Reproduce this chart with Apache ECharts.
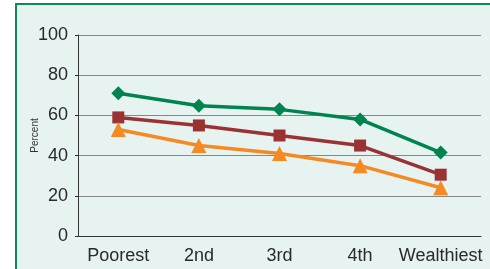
<!DOCTYPE html>
<html>
<head>
<meta charset="utf-8">
<script src="https://cdn.jsdelivr.net/npm/echarts@6/dist/echarts.min.js"></script>
<style>
html,body{margin:0;padding:0;background:#fff;}
#panel{position:absolute;left:15px;top:3px;width:480px;height:270px;background:#E7F3F1;border-left:2px solid #0E8A57;border-top:2px solid #0E8A57;box-sizing:border-box;}
#chart{position:absolute;left:0;top:0;width:490px;height:269px;}
</style>
</head>
<body>
<div id="panel"></div>
<div id="chart"></div>
<script>
const categories = ['Poorest', '2nd', '3rd', '4th', 'Wealthiest'];
const greenSeries = [71, 64.8, 63, 58, 41.5];
const redSeries = [59, 55, 50, 45, 30.5];
const orangeSeries = [53, 45, 41, 35, 24];
const yTicks = [0, 20, 40, 60, 80, 100];

const chart = echarts.init(document.getElementById('chart'), null, {renderer: 'canvas'});
const font = 'Liberation Sans, Arial, sans-serif';
function lineSeries(data, color, symbol, size) {
  return {
    type: 'line', data: data, symbol: symbol, symbolSize: size,
    lineStyle: {color: color, width: 3.5},
    itemStyle: {color: color},
    emphasis: {disabled: true}
  };
}
chart.setOption({
  animation: false,
  grid: {left: 78, right: 9, top: 35, bottom: 33},
  xAxis: {
    type: 'category', data: categories, boundaryGap: true,
    axisLine: {lineStyle: {color: '#333', width: 1}},
    axisTick: {show: false},
    axisLabel: {color: '#2a2a2a', fontSize: 18, fontFamily: font, margin: 11, interval: 0}
  },
  yAxis: {
    type: 'value', min: 0, max: 100, interval: 20,
    name: 'Percent', nameLocation: 'middle', nameGap: 38, nameMoveOverlap: false,
    nameTextStyle: {color: '#333', fontSize: 10, fontFamily: font},
    axisLine: {show: true, lineStyle: {color: '#333', width: 1}},
    axisTick: {show: true, length: 3, lineStyle: {color: '#333'}},
    axisLabel: {color: '#2a2a2a', fontSize: 18, fontFamily: font, margin: 10,
      formatter: function (v) { return yTicks.indexOf(v) >= 0 ? String(v) : ''; }},
    splitLine: {lineStyle: {color: '#888', width: 1}}
  },
  series: [
    lineSeries(greenSeries, '#00844F', 'diamond', 14),
    lineSeries(redSeries, '#9A3234', 'rect', 12),
    lineSeries(orangeSeries, '#F58A22', 'triangle', 15)
  ]
});
</script>
</body>
</html>
